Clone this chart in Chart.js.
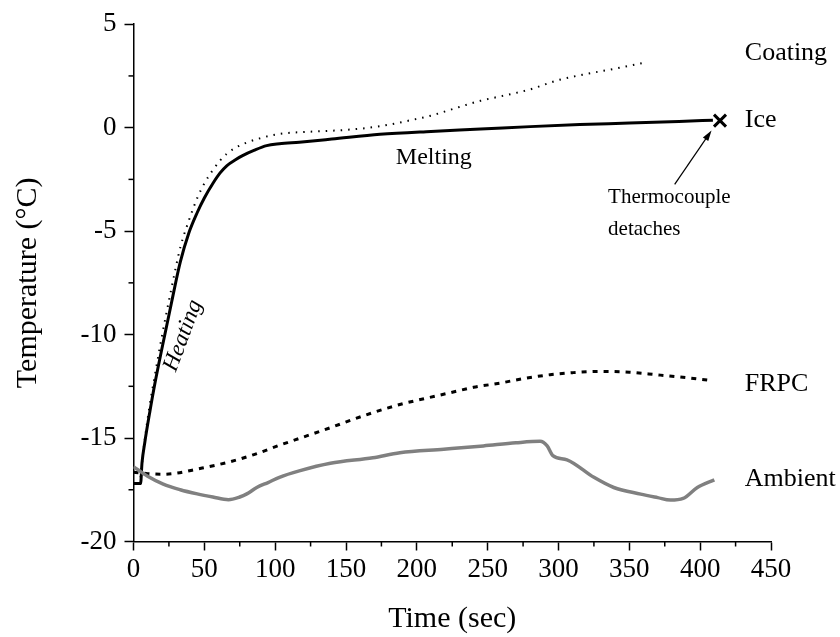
<!DOCTYPE html>
<html>
<head>
<meta charset="utf-8">
<script src="https://cdn.jsdelivr.net/npm/chart.js@4.4.1/dist/chart.umd.min.js"></script>
<style>
  html, body { margin: 0; padding: 0; background: #fff; }
</style>
</head>
<body>
<canvas id="tempChart" width="840" height="637"></canvas>
<script>
// values: time in seconds, temperature in °C
var iceTime = [0, 5, 6, 8, 11.6, 15, 20, 27, 33, 39, 45, 50, 56, 61, 66, 72, 77, 85, 94, 103, 117, 140, 174, 210, 245, 280, 315, 350, 385, 409];
var iceTemp = [-17.2, -17.2, -16.2, -15.2, -13.7, -12.4, -10.7, -8.4, -6.5, -5.1, -4.1, -3.4, -2.7, -2.2, -1.83, -1.55, -1.35, -1.1, -0.87, -0.78, -0.7, -0.55, -0.32, -0.18, -0.07, 0.05, 0.15, 0.22, 0.3, 0.36];

var coatingTime = [5, 7, 11, 15, 20, 27, 33, 39, 45, 50, 56, 61, 66, 72, 80, 90, 103, 120, 140, 160, 175, 195, 210, 230, 245, 265, 280, 300, 320, 340, 359];
var coatingTemp = [-16.9, -15.6, -13.6, -12.0, -10.1, -7.7, -5.8, -4.5, -3.4, -2.7, -2.05, -1.6, -1.25, -0.97, -0.72, -0.5, -0.3, -0.21, -0.15, -0.05, 0.08, 0.35, 0.58, 1.0, 1.3, 1.6, 1.85, 2.3, 2.6, 2.85, 3.12];

var frpcTime = [0, 10, 20, 30, 45, 68, 85, 103, 120, 139, 153, 170, 188, 205, 223, 240, 259, 276, 294, 310, 329, 350, 369, 390, 407];
var frpcTemp = [-16.65, -16.72, -16.75, -16.7, -16.5, -16.15, -15.8, -15.35, -14.95, -14.5, -14.15, -13.75, -13.38, -13.1, -12.82, -12.55, -12.34, -12.12, -11.94, -11.84, -11.78, -11.82, -11.94, -12.08, -12.21];

var ambientTime = [0, 10, 21, 33, 45, 56, 67, 75, 80, 87, 95, 103, 117, 139, 169, 188, 219, 247, 270, 287, 292, 296, 306, 325, 339, 358, 370, 379, 388, 398, 410];
var ambientTemp = [-16.38, -16.85, -17.23, -17.5, -17.7, -17.85, -17.98, -17.85, -17.7, -17.39, -17.15, -16.9, -16.59, -16.22, -15.95, -15.71, -15.54, -15.38, -15.23, -15.16, -15.38, -15.85, -16.05, -16.9, -17.39, -17.71, -17.88, -18.0, -17.92, -17.39, -17.02];

var detachTime = [414];
var detachTemp = [0.34];

var xTicks = [0, 50, 100, 150, 200, 250, 300, 350, 400, 450];
var yTicks = [-20, -15, -10, -5, 0, 5];

function pairs(xs, ys) {
    return xs.map(function (x, i) { return { x: x, y: ys[i] }; });
}

// minor ticks, text labels and the arrow
var extras = {
    id: 'extras',
    afterDraw: function (chart) {
        var ctx = chart.ctx, sx = chart.scales.x, sy = chart.scales.y, a = chart.chartArea;
        ctx.save();
        ctx.strokeStyle = '#000';
        ctx.lineWidth = 1.5;
        for (var i = 0; i < xTicks.length - 1; i++) {
            var px = sx.getPixelForValue((xTicks[i] + xTicks[i + 1]) / 2);
            ctx.beginPath(); ctx.moveTo(px, a.bottom); ctx.lineTo(px, a.bottom + 5); ctx.stroke();
        }
        for (var j = 0; j < yTicks.length - 1; j++) {
            var py = sy.getPixelForValue((yTicks[j] + yTicks[j + 1]) / 2);
            ctx.beginPath(); ctx.moveTo(a.left, py); ctx.lineTo(a.left - 5, py); ctx.stroke();
        }

        ctx.fillStyle = '#000';
        ctx.textBaseline = 'middle';
        ctx.textAlign = 'left';
        ctx.font = '26px "Liberation Serif"';
        [['Coating', 3.6], ['Ice', 0.34], ['FRPC', -12.4], ['Ambient', -16.97]].forEach(function (l) {
            ctx.fillText(l[0], sx.getPixelForValue(431.5), sy.getPixelForValue(l[1]));
        });

        ctx.font = '24px "Liberation Serif"';
        ctx.textAlign = 'center';
        ctx.fillText('Melting', sx.getPixelForValue(212), sy.getPixelForValue(-1.45));

        ctx.font = '21px "Liberation Serif"';
        ctx.textAlign = 'left';
        ctx.fillText('Thermocouple', sx.getPixelForValue(335), sy.getPixelForValue(-3.37));
        ctx.fillText('detaches', sx.getPixelForValue(335), sy.getPixelForValue(-4.9));

        ctx.save();
        ctx.translate(sx.getPixelForValue(35), sy.getPixelForValue(-10.05));
        ctx.rotate(-69.6 * Math.PI / 180);
        ctx.textAlign = 'center';
        ctx.font = 'italic 23px "Liberation Serif"';
        ctx.fillText('Heating', 0, 0);
        ctx.restore();

        // arrow to the detach mark
        var x1 = sx.getPixelForValue(382), y1 = sy.getPixelForValue(-2.74);
        var x2 = sx.getPixelForValue(408), y2 = sy.getPixelForValue(-0.14);
        var ang = Math.atan2(y2 - y1, x2 - x1);
        ctx.lineWidth = 1.2;
        ctx.beginPath(); ctx.moveTo(x1, y1); ctx.lineTo(x2 - 8 * Math.cos(ang), y2 - 8 * Math.sin(ang)); ctx.stroke();
        ctx.beginPath();
        ctx.moveTo(x2, y2);
        ctx.lineTo(x2 - 11 * Math.cos(ang - 0.3), y2 - 11 * Math.sin(ang - 0.3));
        ctx.lineTo(x2 - 11 * Math.cos(ang + 0.3), y2 - 11 * Math.sin(ang + 0.3));
        ctx.closePath();
        ctx.fill();
        ctx.restore();
    }
};

Chart.defaults.font.family = '"Liberation Serif", "Times New Roman", serif';
Chart.defaults.color = '#000';

new Chart(document.getElementById('tempChart').getContext('2d'), {
    type: 'line',
    data: {
        datasets: [
            {
                label: 'Ambient',
                data: pairs(ambientTime, ambientTemp),
                borderColor: '#808080',
                borderWidth: 3.5,
                pointRadius: 0,
                cubicInterpolationMode: 'monotone'
            },
            {
                label: 'FRPC',
                data: pairs(frpcTime, frpcTemp),
                borderColor: '#000',
                borderWidth: 3,
                borderDash: [5, 6],
                pointRadius: 0,
                cubicInterpolationMode: 'monotone'
            },
            {
                label: 'Coating',
                data: pairs(coatingTime, coatingTemp),
                borderColor: '#000',
                borderWidth: 2,
                borderDash: [1.5, 6],
                pointRadius: 0,
                cubicInterpolationMode: 'monotone'
            },
            {
                label: 'Ice',
                data: pairs(iceTime, iceTemp),
                borderColor: '#000',
                borderWidth: 3,
                pointRadius: 0,
                cubicInterpolationMode: 'monotone'
            },
            {
                label: 'Detach',
                data: pairs(detachTime, detachTemp),
                showLine: false,
                pointStyle: 'crossRot',
                pointRadius: 8.5,
                borderColor: '#000',
                borderWidth: 3
            }
        ]
    },
    options: {
        responsive: false,
        animation: false,
        devicePixelRatio: 1,
        events: [],
        layout: { padding: { left: 0, top: 21, right: 69, bottom: 0 } },
        plugins: { legend: { display: false }, tooltip: { enabled: false } },
        scales: {
            x: {
                type: 'linear',
                min: 0,
                max: 450,
                afterFit: function (s) { s.height = 95.5; },
                afterBuildTicks: function (s) { s.ticks = xTicks.map(function (v) { return { value: v }; }); },
                ticks: { font: { size: 27 }, padding: 3, maxRotation: 0, autoSkip: false },
                grid: { drawOnChartArea: false, tickLength: 9, tickWidth: 1.5, tickColor: '#000' },
                border: { color: '#000', width: 1.5 },
                title: { display: true, text: 'Time (sec)', font: { size: 30 }, padding: { top: 0, bottom: 0 } }
            },
            y: {
                min: -20,
                max: 5,
                afterFit: function (s) { s.width = 133.5; },
                afterBuildTicks: function (s) { s.ticks = yTicks.map(function (v) { return { value: v }; }); },
                ticks: { font: { size: 27 }, padding: 8, autoSkip: false },
                grid: { drawOnChartArea: false, tickLength: 9, tickWidth: 1.5, tickColor: '#000' },
                border: { color: '#000', width: 1.5 },
                title: { display: true, text: 'Temperature (°C)', font: { size: 30 }, padding: { top: 10, bottom: 0 } }
            }
        }
    },
    plugins: [extras]
});
</script>
</body>
</html>
